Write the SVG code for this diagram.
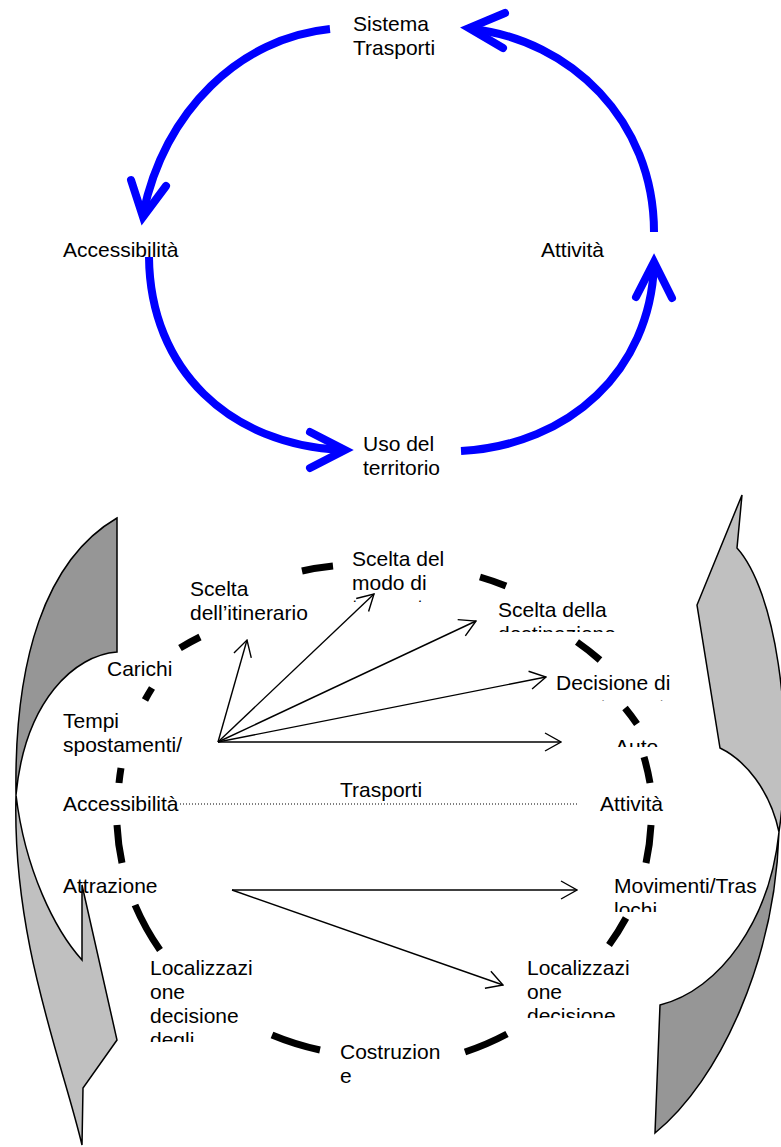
<svg xmlns="http://www.w3.org/2000/svg" width="781" height="1147" viewBox="0 0 781 1147">
<style>
.t{font-family:"Liberation Sans",Arial,sans-serif;font-size:21px;fill:#000}
.blue{fill:none;stroke:#0000FF;stroke-width:8}
.bhead{fill:none;stroke:#0000FF;stroke-width:8;stroke-linecap:round;stroke-linejoin:miter}
.dash{fill:none;stroke:#000;stroke-width:7}
.thin{fill:none;stroke:#000;stroke-width:1.4;marker-end:url(#open)}
.dark{fill:#969696;stroke:#000;stroke-width:1.5}
.light{fill:#C0C0C0;stroke:#000;stroke-width:1.5}
</style>
<defs>
<marker id="open" viewBox="0 0 18 20" refX="17" refY="10" markerWidth="18" markerHeight="20" markerUnits="userSpaceOnUse" orient="auto">
<path d="M1,1 L17,10 L1,19" fill="none" stroke="#000" stroke-width="1.4"/>
</marker>
<clipPath id="cMode"><rect x="340" y="540" width="130" height="62"/></clipPath>
<clipPath id="cDest"><rect x="490" y="595" width="150" height="37"/></clipPath>
<clipPath id="cDec"><rect x="550" y="665" width="140" height="36"/></clipPath>
<clipPath id="cAuto"><rect x="600" y="725" width="80" height="22"/></clipPath>
<clipPath id="cMov"><rect x="605" y="870" width="176" height="42"/></clipPath>
<clipPath id="cLocL"><rect x="140" y="950" width="130" height="92"/></clipPath>
<clipPath id="cLocR"><rect x="515" y="950" width="130" height="68"/></clipPath>
</defs>

<!-- top cycle -->
<g id="connectors-top">
<path class="blue" d="M330,29 C240,38 165,110 143,214"/>
<polyline class="bhead" points="131,180 143,217 166,186"/>
<path class="blue" d="M149,257 C150,370 230,445 342,450"/>
<polyline class="bhead" points="310,432 345,450 310,468"/>
<path class="blue" d="M461,451 C570,445 650,370 654,265"/>
<polyline class="bhead" points="636,297 654,262 672,298"/>
<path class="blue" d="M654,232 C654,120 570,40 472,29"/>
<polyline class="bhead" points="505,13 469,28 503,48"/>
</g>
<g id="n-sistema"><text class="t" x="353" y="31">Sistema</text><text class="t" x="353" y="55">Trasporti</text></g>
<g id="n-accessibilita-top"><text class="t" x="63" y="257">Accessibilità</text></g>
<g id="n-attivita-top"><text class="t" x="541" y="257">Attività</text></g>
<g id="n-uso"><text class="t" x="363" y="451">Uso del</text><text class="t" x="363" y="475">territorio</text></g>

<!-- big curved arrows -->
<g id="arrow-left">
<path class="dark" d="M117,518 L117,652 C75,655 25,700 16,795 C14,660 45,560 117,518 Z"/>
<path class="light" d="M16,795 C25,870 55,930 82,960 L82,885 L117,1040 L83,1088 L82,1145 C62,1060 12,940 16,795 Z"/>
</g>
<g id="arrow-right">
<path class="light" d="M742,495 L697,605 L720,748 C745,760 770,790 779,832 C795,720 775,590 737,548 Z"/>
<path class="dark" d="M779,832 C775,960 720,1080 655,1133 L660,1005 C720,990 770,920 779,832 Z"/>
</g>

<!-- dashed cycle -->
<g id="cycle-dashes">
<path class="dash" d="M180,648 A267,254 0 0 1 200,637"/>
<path class="dash" d="M302,571 A267,254 0 0 1 333,566"/>
<path class="dash" d="M480,577 A267,254 0 0 1 506,586"/>
<path class="dash" d="M577,642 A267,254 0 0 1 600,660"/>
<path class="dash" d="M625,708 A267,254 0 0 1 637,724"/>
<path class="dash" d="M644,757 A267,254 0 0 1 650,783"/>
<path class="dash" d="M651,825 A267,254 0 0 1 646,863"/>
<path class="dash" d="M626,918 A267,254 0 0 1 609,945"/>
<path class="dash" d="M507,1034 A267,254 0 0 1 465,1052"/>
<path class="dash" d="M320,1050 A267,254 0 0 1 272,1035"/>
<path class="dash" d="M160,950 A267,254 0 0 1 135,905"/>
<path class="dash" d="M122,863 A267,254 0 0 1 117,825"/>
<path class="dash" d="M119,783 A267,254 0 0 1 121,768"/>
<path class="dash" d="M145,700 A267,254 0 0 1 152,688"/>
</g>

<g id="connectors-bottom">
<line class="thin" x1="218" y1="742" x2="247" y2="640"/>
<line class="thin" x1="218" y1="742" x2="374" y2="594"/>
<line class="thin" x1="218" y1="742" x2="476" y2="621"/>
<line class="thin" x1="218" y1="742" x2="546" y2="677"/>
<line class="thin" x1="218" y1="742" x2="561" y2="742"/>
<line class="thin" x1="232" y1="890" x2="577" y2="890"/>
<line class="thin" x1="232" y1="890" x2="503" y2="985"/>
<line x1="180" y1="804" x2="578" y2="804" stroke="#000" stroke-width="1" stroke-dasharray="1 2"/>
</g>

<g id="n-scelta-modo" clip-path="url(#cMode)"><text class="t" x="352" y="566">Scelta del</text><text class="t" x="352" y="590">modo di</text><text class="t" x="352" y="614">trasporto</text></g>
<g id="n-scelta-itin"><text class="t" x="190" y="596">Scelta</text><text class="t" x="190" y="620">dell’itinerario</text></g>
<g id="n-scelta-dest" clip-path="url(#cDest)"><text class="t" x="498" y="617">Scelta della</text><text class="t" x="498" y="641">destinazione</text></g>
<g id="n-carichi"><text class="t" x="107" y="676">Carichi</text></g>
<g id="n-decisione" clip-path="url(#cDec)"><text class="t" x="556" y="690">Decisione di</text><text class="t" x="556" y="714">spostamento</text></g>
<g id="n-tempi"><text class="t" x="63" y="728">Tempi</text><text class="t" x="63" y="752">spostamenti/</text></g>
<g id="n-auto" clip-path="url(#cAuto)"><text class="t" x="615" y="754">Auto</text></g>
<g id="n-trasporti"><text class="t" x="340" y="797">Trasporti</text></g>
<g id="n-accessibilita"><text class="t" x="63" y="811">Accessibilità</text></g>
<g id="n-attivita"><text class="t" x="600" y="811">Attività</text></g>
<g id="n-attrazione"><text class="t" x="63" y="893">Attrazione</text></g>
<g id="n-movimenti" clip-path="url(#cMov)"><text class="t" x="614" y="893">Movimenti/Tras</text><text class="t" x="614" y="917">lochi</text></g>
<g id="n-loc-left" clip-path="url(#cLocL)"><text class="t" x="150" y="975">Localizzazi</text><text class="t" x="150" y="999">one</text><text class="t" x="150" y="1023">decisione</text><text class="t" x="150" y="1047">degli</text></g>
<g id="n-loc-right" clip-path="url(#cLocR)"><text class="t" x="527" y="975">Localizzazi</text><text class="t" x="527" y="999">one</text><text class="t" x="527" y="1023">decisione</text></g>
<g id="n-costruzione"><text class="t" x="340" y="1059">Costruzion</text><text class="t" x="340" y="1083">e</text></g>
</svg>
